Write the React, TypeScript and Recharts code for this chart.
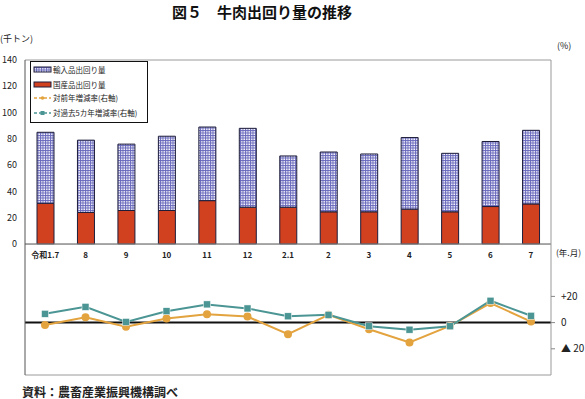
import React from "react";
import {
  BarChart,
  Bar,
  LineChart,
  Line,
  XAxis,
  YAxis,
  CartesianGrid,
  ReferenceLine,
} from "recharts";

const categories = ["令和1.7", "8", "9", "10", "11", "12", "2.1", "2", "3", "4", "5", "6", "7"];
const importVol = [54, 55, 50.5, 56.5, 56, 60, 39, 45.5, 44, 54.5, 44.5, 49.5, 56];
const domesticVol = [31, 24, 25.5, 25.5, 33, 28, 28, 24.5, 24.5, 26.5, 24.5, 28.5, 30.5];
const yoyRate = [-1.8, 4.1, -3.1, 3.1, 6.4, 4.6, -8.9, 5.9, -5.1, -15.1, -2.5, 14.9, 0.8];
const fiveYearRate = [6.7, 12.0, 0.5, 8.7, 13.9, 10.8, 4.8, 5.9, -2.8, -5.4, -2.8, 16.7, 5.2];
const leftTicks = [0, 20, 40, 60, 80, 100, 120, 140];
const rateGridTicks = [-40, -20, 0, 20, 40, 60];
const rateLabelTicks = [-20, 0, 20];

const barData = categories.map((c, i) => ({
  name: c,
  domestic: domesticVol[i],
  imported: importVol[i],
}));
const lineData = categories.map((c, i) => ({
  name: c,
  yoy: yoyRate[i],
  five: fiveYearRate[i],
}));

const FONT = '"Noto Sans CJK JP", "Noto Sans", sans-serif';
const ORANGE = "#e3a33e";
const TEAL = "#4b9594";
const RED = "#d2411f";
const OUTLINE = "#1d1d3a";

const SquareDot = (props: any) => {
  const { cx, cy } = props;
  if (cx == null || cy == null) return null;
  return <rect x={cx - 3.5} y={cy - 3.5} width={7} height={7} fill={TEAL} stroke="#ffffff" strokeWidth={0.5} />;
};

const rateFmt = (v: number) => (v > 0 ? "+" + v : v < 0 ? "▲ " + Math.abs(v) : "0");

const RateTick = (props: any) => {
  const { x, y, payload } = props;
  return (
    <text x={x} y={y} dy="0.355em" fontSize={10} fill="#222" fontFamily={FONT} textAnchor="start">
      {rateFmt(payload.value)}
    </text>
  );
};

const Patt = () => (
  <pattern id="gridpat" width="2.5" height="2.5" patternUnits="userSpaceOnUse">
    <rect width="2.5" height="2.5" fill="#ffffff" />
    <path d="M0 0.5 H2.5 M0.5 0 V2.5" stroke="#6868bd" strokeWidth="1" />
  </pattern>
);

export default function App() {
  return (
    <div
      style={{
        position: "absolute",
        left: 0,
        top: 0,
        width: 585,
        height: 399,
        background: "#ffffff",
        fontFamily: FONT,
        overflow: "hidden",
      }}
    >
      <div
        style={{
          position: "absolute",
          left: 172,
          top: 1,
          fontSize: 15,
          fontWeight: 700,
          color: "#111",
          whiteSpace: "nowrap",
        }}
      >
        図５　牛肉出回り量の推移
      </div>
      <div style={{ position: "absolute", left: 0, top: 32, fontSize: 9, color: "#222", whiteSpace: "nowrap" }}>(千トン)</div>
      <div style={{ position: "absolute", left: 557, top: 39, fontSize: 9, color: "#222", whiteSpace: "nowrap" }}>(%)</div>
      <div style={{ position: "absolute", left: 556, top: 246, fontSize: 8.5, color: "#222", whiteSpace: "nowrap" }}>(年.月)</div>

      <div style={{ position: "absolute", left: 0, top: 0 }}>
        <BarChart
          width={585}
          height={270}
          data={barData}
          margin={{ top: 60, right: 0, bottom: 0, left: 0 }}
          barSize={17}
        >
          <defs>
            <Patt />
          </defs>
          <CartesianGrid vertical={false} stroke="#9a9a9a" strokeWidth={1} />
          <XAxis
            dataKey="name"
            height={26}
            tickLine={false}
            axisLine={{ stroke: "#888" }}
            tick={{ fontSize: 8, fill: "#222", fontFamily: FONT, fontWeight: 600 }}
            interval={0}
          />
          <YAxis
            yAxisId="l"
            width={25}
            domain={[0, 140]}
            ticks={leftTicks}
            tickLine={false}
            axisLine={{ stroke: "#555" }}
            tick={{ fontSize: 9, fill: "#222", fontFamily: FONT }}
          />
          <YAxis yAxisId="r" orientation="right" width={34} tick={false} tickLine={false} axisLine={{ stroke: "#999" }} />
          <Bar yAxisId="l" dataKey="domestic" stackId="a" fill={RED} stroke={OUTLINE} strokeWidth={1} isAnimationActive={false} />
          <Bar yAxisId="l" dataKey="imported" stackId="a" fill="url(#gridpat)" stroke={OUTLINE} strokeWidth={1} isAnimationActive={false} />
        </BarChart>
      </div>

      <div style={{ position: "absolute", left: 0, top: 244 }}>
        <LineChart
          width={585}
          height={140}
          data={lineData}
          margin={{ top: 0, right: 0, bottom: 9, left: 0 }}
        >
          <CartesianGrid yAxisId="l" vertical={false} stroke="#9a9a9a" strokeWidth={1} />
          <XAxis dataKey="name" hide padding={{ left: 20, right: 20 }} />
          <YAxis
            yAxisId="l"
            width={25}
            domain={[-40, 60]}
            ticks={rateGridTicks}
            tick={false}
            tickLine={false}
            axisLine={{ stroke: "#555" }}
          />
          <YAxis
            yAxisId="r"
            orientation="right"
            width={34}
            domain={[-40, 60]}
            ticks={rateLabelTicks}
            tickSize={4}
            tickMargin={6}
            tickLine={{ stroke: "#888" }}
            axisLine={{ stroke: "#999" }}
            tick={<RateTick />}
          />
          <ReferenceLine yAxisId="r" y={0} stroke="#111" strokeWidth={2} />
          <Line
            yAxisId="r"
            dataKey="yoy"
            stroke={ORANGE}
            strokeWidth={2}
            dot={{ r: 3, fill: ORANGE, stroke: ORANGE }}
            isAnimationActive={false}
          />
          <Line
            yAxisId="r"
            dataKey="five"
            stroke={TEAL}
            strokeWidth={2}
            dot={<SquareDot />}
            isAnimationActive={false}
          />
        </LineChart>
      </div>

      <div
        style={{
          position: "absolute",
          left: 30,
          top: 61,
          width: 116,
          height: 60,
          border: "1px solid #111",
          background: "#fff",
        }}
      >
        <svg width={116} height={60} style={{ position: "absolute", left: 0, top: 0 }}>
          <defs>
            <Patt />
          </defs>
          <rect x={3} y={5} width={17} height={5} fill="url(#gridpat)" stroke={OUTLINE} strokeWidth={1} />
          <rect x={3} y={20} width={17} height={5} fill={RED} stroke={OUTLINE} strokeWidth={1} />
          <line x1={3} y1={36} x2={20} y2={36} stroke={ORANGE} strokeWidth={1.5} strokeDasharray="3 2" />
          <circle cx={11.5} cy={36} r={1.8} fill={ORANGE} />
          <line x1={3} y1={51} x2={20} y2={51} stroke={TEAL} strokeWidth={1.5} strokeDasharray="3 2" />
          <rect x={9.5} y={49} width={4} height={4} fill={TEAL} />
          <text x={22} y={10.5} fontSize={7.5} fill="#222" fontFamily={FONT}>輸入品出回り量</text>
          <text x={22} y={25.5} fontSize={7.5} fill="#222" fontFamily={FONT}>国産品出回り量</text>
          <text x={22} y={39} fontSize={7.5} fill="#222" fontFamily={FONT}>対前年増減率(右軸)</text>
          <text x={22} y={54} fontSize={7.5} fill="#222" fontFamily={FONT}>対過去5カ年増減率(右軸)</text>
        </svg>
      </div>

      <div style={{ position: "absolute", left: 22, top: 383, fontSize: 12, fontWeight: 700, color: "#222", whiteSpace: "nowrap" }}>
        資料：農畜産業振興機構調べ
      </div>
    </div>
  );
}
